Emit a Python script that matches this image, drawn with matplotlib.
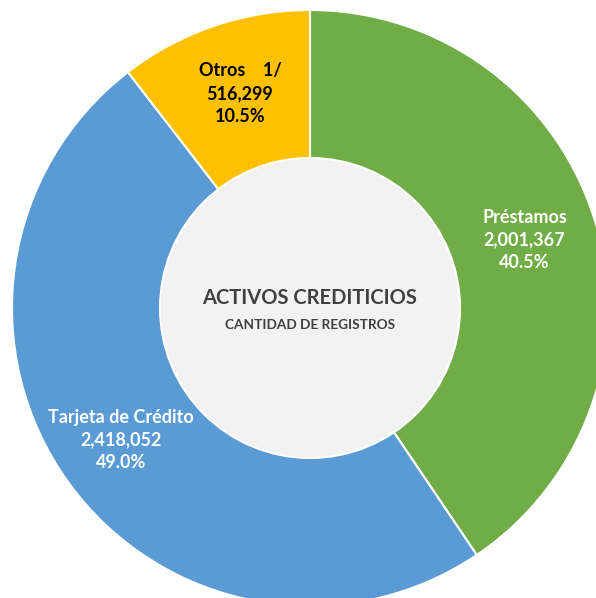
import matplotlib.pyplot as plt
from matplotlib.patches import Circle

# datos
categorias = ['Préstamos', 'Tarjeta de Crédito', 'Otros    1/']
registros = [2001367, 2418052, 516299]
porcentajes = [40.5, 49.0, 10.5]
colores = ['#70AD47', '#5B9BD5', '#FFC000']
color_texto = ['white', 'white', 'black']
# posicion de etiquetas en fraccion del radio
pos_etiqueta = [(0.72, 0.228), (-0.635, -0.443), (-0.235, 0.72)]

plt.rcParams['font.family'] = ['Lato', 'DejaVu Sans']

fig = plt.figure(figsize=(5.96, 5.98), dpi=100)
ax = fig.add_axes([0, 0, 1, 1])

cx, cy, r = 310, 290, 298
ax.pie(registros, colors=colores, startangle=90, counterclock=False,
       center=(cx, cy), radius=r, frame=True,
       wedgeprops=dict(edgecolor='white', linewidth=1.5))
ax.set_xlim(0, 596)
ax.set_ylim(0, 598)
ax.set_aspect('equal')
ax.axis('off')

ax.add_patch(Circle((cx, cy), 150, facecolor='#F2F2F2', edgecolor='white', lw=1.5, zorder=5))

for cat, n, p, c, (px, py) in zip(categorias, registros, porcentajes, color_texto, pos_etiqueta):
    ax.text(cx + px * r, cy + py * r, f'{cat}\n{n:,}\n{p:.1f}%', ha='center', va='center',
            color=c, fontsize=13, fontweight='bold', linespacing=1.4, zorder=6)

ax.text(cx, cy + 10, 'ACTIVOS CREDITICIOS', ha='center', va='center', color='#404040',
        fontsize=14.5, fontweight='bold', zorder=6)
ax.text(cx, cy - 17, 'CANTIDAD DE REGISTROS', ha='center', va='center', color='#404040',
        fontsize=9.8, fontweight='bold', zorder=6)

fig.savefig('out.png', dpi=100)
